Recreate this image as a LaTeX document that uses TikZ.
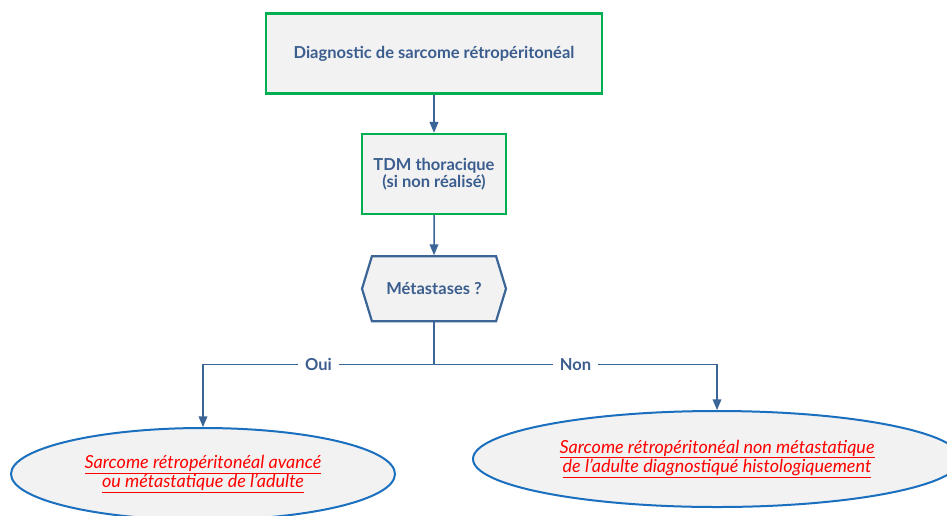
\documentclass[tikz,border=0pt]{standalone}
\usepackage{fontspec}
\setmainfont{Lato}
\usetikzlibrary{positioning,arrows,shapes.geometric,shapes.symbols}

\definecolor{boxgreen}{HTML}{00B050}
\definecolor{boxfill}{HTML}{F2F2F2}
\definecolor{textblue}{HTML}{3B5E8F}
\definecolor{lineblue}{HTML}{3A6596}
\definecolor{ovalblue}{HTML}{1A6FBF}

\begin{document}
\begin{tikzpicture}[x=1pt,y=-1pt,>=triangle 45,semithick,
                    font=\fontsize{16.5}{17}\selectfont\bfseries]
  \tikzstyle{every node}=[text=textblue]
  \tikzstyle{stepbox}=[draw=boxgreen,line width=2.4pt,fill=boxfill,align=center]
  \tikzstyle{question}=[signal,signal to=west and east,signal pointer angle=146,
                        draw=lineblue,line width=2.2pt,fill=boxfill,
                        minimum width=144pt,minimum height=65pt]
  \tikzstyle{outcome}=[ellipse,draw=ovalblue,line width=2pt,fill=boxfill,align=center,
                       text=red,font=\fontsize{18}{16.5}\selectfont\itshape]
  \tikzstyle{link}=[->,draw=lineblue,line width=1.5pt]
  \tikzstyle{answer}=[fill=white,inner xsep=7pt]

  \useasboundingbox (0,0) rectangle (947,515);

  \node[stepbox, minimum width=336pt, minimum height=80pt] (diag) at (434,53.5)
       {Diagnostic de sarcome rétropéritonéal};
  \node[stepbox, minimum width=144pt, minimum height=80pt] (tdm) [below=38pt of diag]
       {TDM thoracique\\ (si non réalisé)};
  \node[question] (meta) [below=40pt of tdm] {Métastases ?};

  \node[outcome, minimum width=384pt, minimum height=92pt] (avance) at (203,474)
       {\underline{Sarcome rétropéritonéal avancé}\\ \underline{ou métastatique de l'adulte}};
  \node[outcome, minimum width=488pt, minimum height=96pt] (local) at (717,459)
       {\underline{Sarcome rétropéritonéal non métastatique}\\ \underline{de l'adulte diagnostiqué histologiquement}};

  \draw[link] (diag) -- (tdm);
  \draw[link] (tdm) -- (meta);
  \draw[lineblue,line width=1.5pt] (meta.south) -- ++(0,42) coordinate (split);
  \draw[link] (split) -| node[answer,pos=0.25] (oui) {Oui} (avance.north);
  \draw[link] (split) -| node[answer,pos=0.25] (non) {Non} (local.north);
\end{tikzpicture}
\end{document}
